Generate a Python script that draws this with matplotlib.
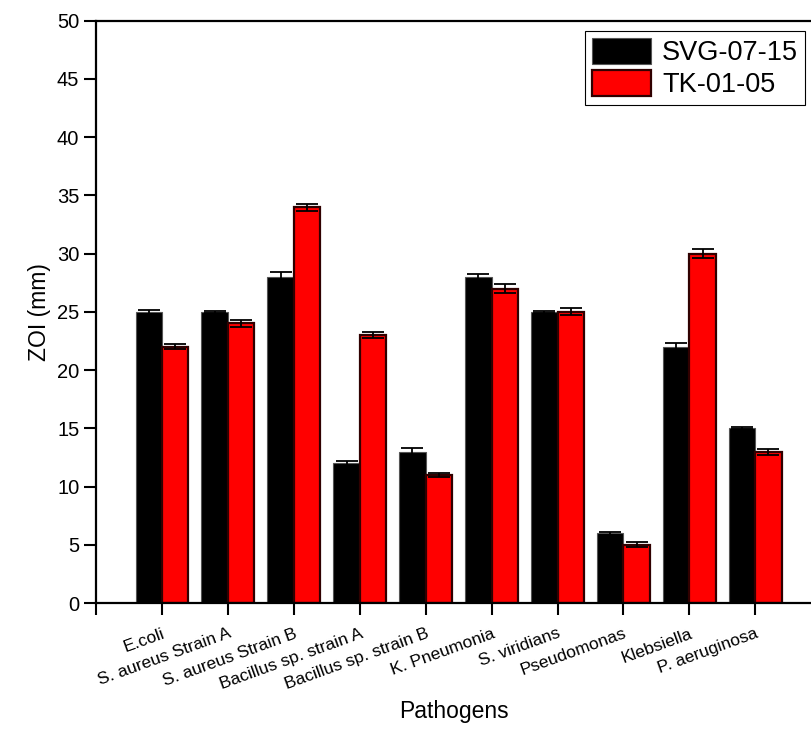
import numpy as np
import matplotlib
matplotlib.use("Agg")
import matplotlib.pyplot as plt

plt.rcParams["font.family"] = ["Liberation Sans", "DejaVu Sans"]

pathogens = ["E.coli", "S. aureus Strain A", "S. aureus Strain B",
             "Bacillus sp. strain A", "Bacillus sp. strain B", "K. Pneumonia",
             "S. viridians", "Pseudomonas", "Klebsiella", "P. aeruginosa"]
svg = [25, 25, 28, 12, 13, 28, 25, 6, 22, 15]
svg_err = [0.2, 0.1, 0.4, 0.2, 0.3, 0.25, 0.1, 0.12, 0.3, 0.1]
tk = [22, 24, 34, 23, 11, 27, 25, 5, 30, 13]
tk_err = [0.22, 0.32, 0.3, 0.25, 0.15, 0.4, 0.3, 0.2, 0.38, 0.25]

fig = plt.figure(figsize=(8.12, 7.31), dpi=100)
ax = fig.add_axes([0.1182, 0.1751, 0.8818, 0.7966])

x = np.arange(len(pathogens))
w = 0.4
ekw = dict(ecolor="black", elinewidth=1.3, capsize=8, capthick=1.3)
ax.bar(x - w / 2, svg, w, yerr=svg_err, color="black", edgecolor="#555555",
       linewidth=0.8, error_kw=ekw, label="SVG-07-15")
ax.bar(x + w / 2, tk, w, yerr=tk_err, color="#ff0000", edgecolor="#300000",
       linewidth=1.6, error_kw=ekw, label="TK-01-05")

ax.set_xlim(-1, 9.86)
ax.set_ylim(0, 50)
ax.set_xticks(np.arange(-1, 10))
ax.set_xticklabels([""] + pathogens, rotation=20, ha="right",
                   rotation_mode="anchor", fontsize=12.5)
ax.set_yticks(np.arange(0, 51, 5))
ax.tick_params(axis="y", labelsize=14.5, length=8.5, width=1.5, direction="out")
ax.tick_params(axis="x", length=8.5, width=1.5, direction="out", pad=8)
for s in ["left", "bottom", "top"]:
    ax.spines[s].set_linewidth(1.6)
ax.spines["right"].set_visible(False)

ax.set_ylabel("ZOI (mm)", fontsize=16.5, labelpad=4)
ax.set_xlabel("Pathogens", fontsize=16.5, labelpad=6)

leg = ax.legend(loc="upper right", bbox_to_anchor=(0.99, 0.982), fontsize=19.5,
                fancybox=False, framealpha=1, edgecolor="black",
                handlelength=2.2, handleheight=1.1, handletextpad=0.4,
                borderpad=0.25, labelspacing=0.15, borderaxespad=0)
leg.get_frame().set_linewidth(0.8)

fig.savefig("out.png", dpi=100)
